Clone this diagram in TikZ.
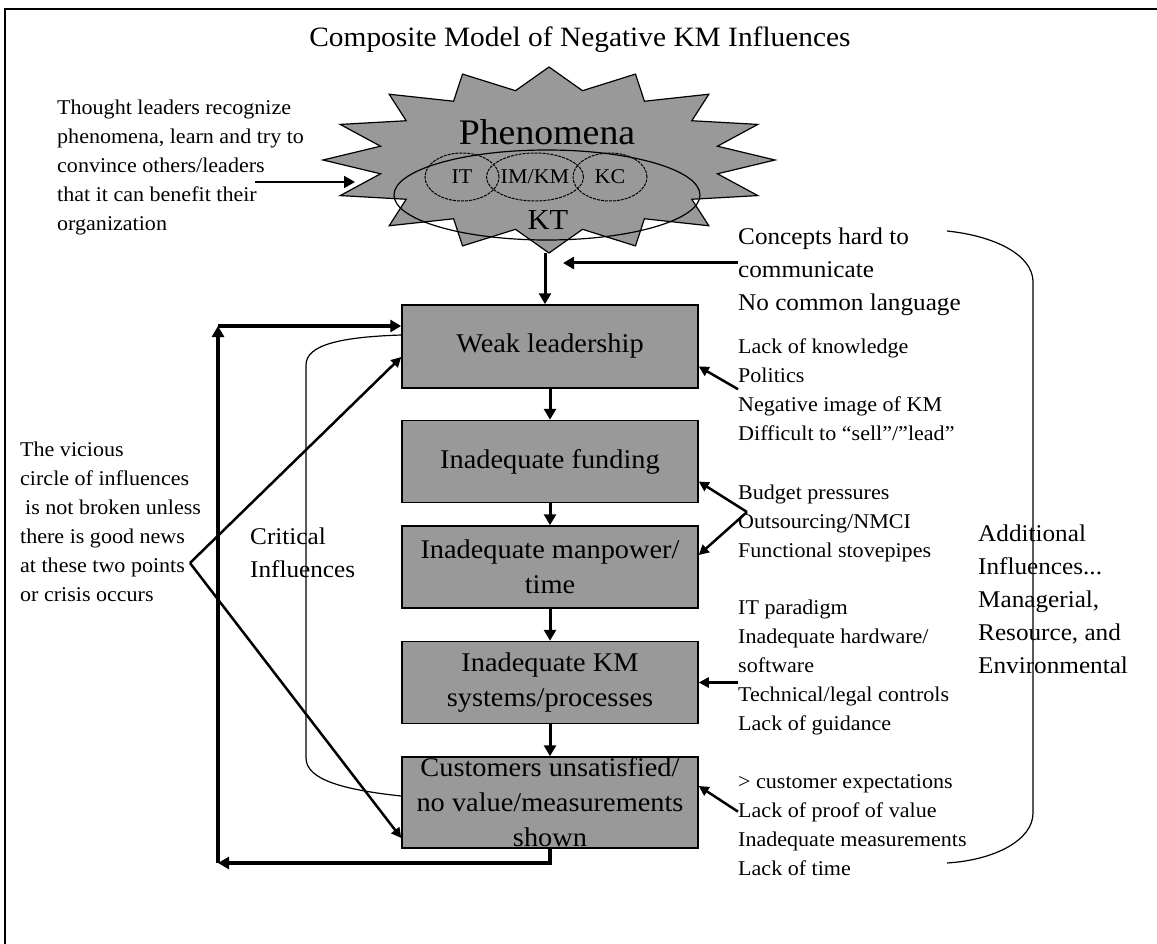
\documentclass[tikz,border=0pt]{standalone}
\usepackage{fontspec}
\setmainfont{Liberation Serif}[FakeStretch=1.05]
\usepackage{tikz}
\usetikzlibrary{arrows.meta,positioning,shapes.geometric}
\definecolor{boxgray}{HTML}{999999}

\begin{document}
\begin{tikzpicture}[
    x=1pt, y=-1pt,
    >={Triangle[length=11pt,width=12pt]},
    % --- node styles -------------------------------------------------
    factor/.style={
        draw, line width=1.5pt, fill=boxgray, align=center,
        minimum width=296pt, minimum height=82pt,
        inner xsep=2pt, inner ysep=0pt,
        font=\fontsize{27}{35}\selectfont
    },
    note/.style={
        align=left, anchor=base west, inner sep=0pt,
        font=\fontsize{21}{29}\selectfont
    },
    bignote/.style={note, font=\fontsize{24}{33}\selectfont},
    oval/.style={
        draw, ellipse, line width=1pt, dash pattern=on 3pt off 1pt,
        minimum width=74pt, minimum height=48pt, inner sep=0pt,
        font=\fontsize{21}{21}\selectfont
    },
    flow/.style={->, line width=3pt},
    cause/.style={-{Triangle[length=10pt,width=10pt]}, line width=2.5pt},
    loopline/.style={->, line width=3.5pt},
    brace/.style={line width=1.2pt}
]
\useasboundingbox (0,0) rectangle (1157,944);

% --- frame ---------------------------------------------------------
\draw[line width=2.5pt] (5,944) -- (5,9) -- (1157,9);

\node[anchor=base, font=\fontsize{28}{28}\selectfont] (title) at (580,47)
    {Composite Model of Negative KM Influences};

% --- phenomena burst -----------------------------------------------
\begin{scope}[shift={(549,160)}]
\draw[line width=1.2pt, fill=boxgray] (226,0)
    \foreach \k [evaluate=\k as \rr using {ifthenelse(mod(\k,2)==0,1,0.76)}] in {1,...,31}
    { -- ({\k*11.25}:{226*\rr} and {93*\rr}) } -- cycle;
\end{scope}
\draw[line width=1.2pt] (547,195) ellipse [x radius=153, y radius=45];
\node[anchor=base, font=\fontsize{36}{36}\selectfont] (phen) at (547,145) {Phenomena};
\node[oval] (itEll) at (462,177) {IT};
\node[oval] (imkmEll) at (535,177) {IM/KM};
\node[oval] (kcEll) at (610,177) {KC};
\node[anchor=base, font=\fontsize{29}{29}\selectfont] (kt) at (548,230) {KT};

% --- chain of influences -------------------------------------------
\node[factor, minimum height=83pt] (leadership) at (550,346.5) {Weak leadership};
\node[factor, below=31pt of leadership] (funding) {Inadequate funding};
\node[factor, below=22pt of funding] (manpower) {Inadequate manpower/\\time};
\node[factor, below=32pt of manpower] (systems) {Inadequate KM\\systems/processes};
\node[factor, below=32pt of systems, minimum height=91pt] (customers)
    {Customers unsatisfied/\\no value/measurements\\shown};

\coordinate (burstTip) at (545,253);
\draw[flow] (burstTip) -- (burstTip |- leadership.north);
\draw[flow] (leadership) -- (funding);
\draw[flow] (funding) -- (manpower);
\draw[flow] (manpower) -- (systems);
\draw[flow] (systems) -- (customers);

% --- left side notes (base = last line) ----------------------------
\node[note] (thought) at (57,231)
    {Thought leaders recognize\\phenomena, learn and try to\\convince others/leaders\\
     that it can benefit their\\organization};
\coordinate (thoughtTail) at (255,182);
\coordinate (thoughtTip) at (355,182);
\draw[->, line width=2pt] (thoughtTail) -- (thoughtTip);

\node[note] (vicious) at (20,601)
    {The vicious\\circle of influences\\\hspace*{5pt}is not broken unless\\
     there is good news\\at these two points\\or crisis occurs};
\node[bignote] (critical) at (250,577) {Critical\\Influences};

% vicious circle: back to the top
\coordinate (loopBL) at (218,863);
\coordinate (loopTL) at (218,326);
\draw[loopline] (customers.south) |- (loopBL);
\draw[loopline] (loopBL) -- (loopTL);
\draw[loopline] (loopTL) -- (loopTL -| leadership.west);

\coordinate (viciousPt) at (190,563);
\draw[cause] (viciousPt) -- ([yshift=-10.5pt]leadership.west);
\draw[cause] (viciousPt) -- ([yshift=-35.5pt]customers.west);

\draw[brace] ([yshift=11.5pt]leadership.west) .. controls (340,337) and (306,345) .. (306,365)
    -- (306,758) .. controls (306,780) and (345,790) .. ([yshift=6.5pt]customers.west);

% --- right side influences -----------------------------------------
\node[bignote] (concepts) at (738,310)
    {Concepts hard to\\communicate\\No common language};
\coordinate (conceptTip) at (563,263);
\draw[flow] (concepts.west |- conceptTip) -- (conceptTip);

\node[note] (leadCauses) at (738,440)
    {Lack of knowledge\\Politics\\Negative image of KM\\Difficult to ``sell''/''lead''};
\node[note] (fundCauses) at (738,557)
    {Budget pressures\\Outsourcing/NMCI\\Functional stovepipes};
\node[note] (sysCauses) at (738,730)
    {IT paradigm\\Inadequate hardware/\\software\\Technical/legal controls\\Lack of guidance};
\node[note] (custCauses) at (738,875)
    {\textgreater{} customer expectations\\Lack of proof of value\\Inadequate measurements\\Lack of time};

\draw[cause] (leadCauses.west) -- ([yshift=-20pt]leadership.east);
\coordinate (fundFork) at (747,512);
\draw[cause] (fundFork) -- ([yshift=-20pt]funding.east);
\draw[cause] (fundFork) -- ([yshift=12pt]manpower.east);
\draw[cause] (sysCauses.west |- systems.east) -- (systems.east);
\draw[cause] ([yshift=13pt]custCauses.west) -- ([yshift=16.5pt]customers.east);

\node[bignote] (additional) at (978,673)
    {Additional\\Influences...\\Managerial,\\Resource, and\\Environmental};
\coordinate (addTop) at (947,231);
\coordinate (addBot) at (947,863);
\draw[brace] (addTop) .. controls (995,236) and (1033,255) .. (1033,282)
    -- (1033,813) .. controls (1033,840) and (995,860) .. (addBot);

\end{tikzpicture}
\end{document}
